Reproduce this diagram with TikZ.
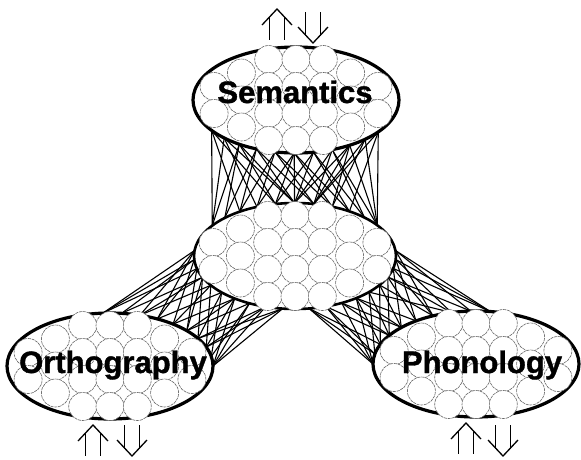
\documentclass[tikz,border=0pt]{standalone}
\usepackage{fontspec}
\setmainfont{Liberation Sans}
\newfontfamily\labfont[FakeBold=1.2]{Liberation Sans Bold}
\usetikzlibrary{shapes.geometric,calc,backgrounds}
\newcommand\drawunits[1]{%
  \foreach \k/\n in {-3/2,-2/3,-1/4,0/4,1/4,2/3,3/2}{%
    \foreach \r in {1,...,\n}{%
      \node[unit] (#1-\k-\r) at ($(#1.center)+(\k*27.3,{(\r-1-(\n-1)/2)*27})$) {};
    }%
  }%
}
\begin{document}
\begin{tikzpicture}[x=1pt,y=-1pt,
  bigell/.style={ellipse,draw,fill=white,line width=3.2pt,inner sep=0pt,
    minimum width=206pt,minimum height=106pt},
  hidell/.style={bigell,line width=2.6pt,minimum width=202pt,minimum height=106pt},
  unit/.style={circle,draw=black!60,dash pattern=on 3pt off 0.8pt,line width=0.6pt,
    fill=white,minimum size=28pt,inner sep=0pt},
  conn/.style={line width=1.1pt,black},
  lab/.style={font=\labfont\fontsize{31}{31}\selectfont,anchor=base,inner sep=0pt},
  arr/.style={line width=1.3pt},
  uparr/.pic={\draw[arr] (-15,16) -- (0,0) -- (15,16);
    \draw[arr] (-7.5,7.5) -- (-7.5,31) (7.5,7.5) -- (7.5,31);},
  downarr/.pic={\draw[arr] (-15,-16) -- (0,0) -- (15,-16);
    \draw[arr] (-7.5,-7.5) -- (-7.5,-31) (7.5,-7.5) -- (7.5,-31);}
]
\useasboundingbox (0,0) rectangle (581,459);
\node[bigell] (sem) at (296,100) {};
\node[hidell] (hid) at (295,256) {};
\node[bigell] (ort) at (110,366) {};
\node[bigell] (pho) at (476,364) {};

\begin{pgfonlayer}{background}
  % semantics -- hidden
  \foreach \i/\j in {0/0,0/2,0/4,1/0,1/3,1/5,2/0,2/1,2/4,2/5,3/1,3/2,3/5,3/6,
                     4/2,4/3,4/6,4/7,5/3,5/4,5/5,5/7,5/8,6/4,6/5,6/8,6/9,
                     7/5,7/6,7/9,7/10,8/5,8/6,8/7,8/10,9/6,9/7,9/10,10/6,10/8,10/10}{
    \pgfmathsetmacro\as{145-10.8*\i}
    \pgfmathsetmacro\ah{215+10.95*\j}
    \draw[conn] ($(sem.center)+(\as:103 and 53)$) -- ($(hid.center)+(\ah:101 and 53)$);
  }
  % hidden -- orthography
  \foreach \i/\j in {0/0,0/2,0/3,1/0,1/1,1/4,2/0,2/3,2/5,3/1,3/2,3/5,3/6,
                     4/2,4/4,4/7,5/3,5/6,5/8,6/4,6/5,6/7,6/9,7/5,7/8,7/9,
                     8/6,8/7,8/9,9/6,9/7,9/9}{
    \pgfmathsetmacro\ah{186-89*\i/9}
    \pgfmathsetmacro\ao{266+94*\j/9}
    \draw[conn] ($(hid.center)+(\ah:101 and 53)$) -- ($(ort.center)+(\ao:103 and 53)$);
  }
  % hidden -- phonology
  \foreach \i/\j in {0/0,0/1,0/3,1/0,1/2,1/4,2/0,2/3,2/5,3/1,3/2,3/4,3/6,
                     4/3,4/5,4/7,5/2,5/6,5/8,6/4,6/5,6/7,6/9,7/5,7/6,7/9,
                     8/6,8/8,8/9,9/7,9/8,9/9}{
    \pgfmathsetmacro\ah{-6+88*\i/9}
    \pgfmathsetmacro\ap{278-98*\j/9}
    \draw[conn] ($(hid.center)+(\ah:101 and 53)$) -- ($(pho.center)+(\ap:103 and 53)$);
  }
\end{pgfonlayer}

\drawunits{sem}
\drawunits{hid}
\drawunits{ort}
\drawunits{pho}

\node[lab] (semlab) at (295,103) {Semantics};
\node[lab] (ortlab) at (113,373) {Orthography};
\node[lab] (pholab) at (482,373) {Phonology};

\pic at (277,9) {uparr};
\pic at (313,43) {downarr};
\pic at (93,425) {uparr};
\pic at (132,456) {downarr};
\pic at (466,423) {uparr};
\pic at (503,456) {downarr};
\end{tikzpicture}
\end{document}
